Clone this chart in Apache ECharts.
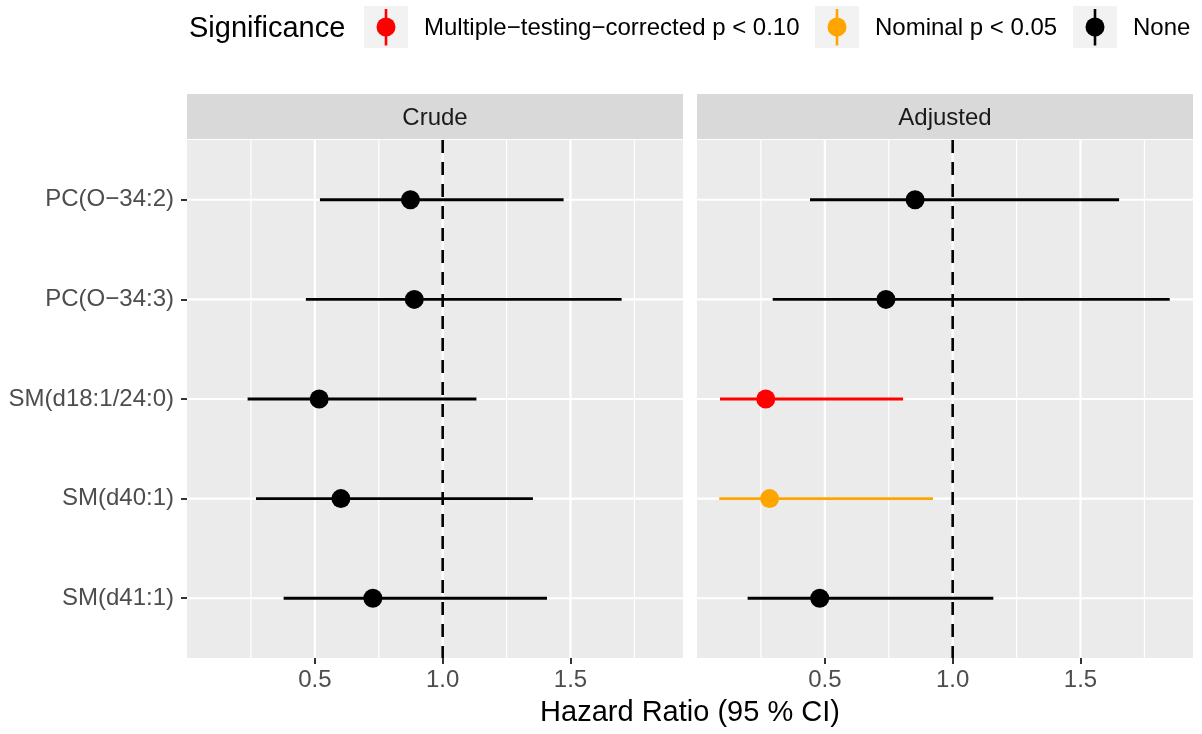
<!DOCTYPE html>
<html><head><meta charset="utf-8">
<script src="https://cdn.jsdelivr.net/npm/echarts@6/dist/echarts.min.js"></script>
<style>html,body{margin:0;padding:0;background:#fff}#c{width:1202px;height:734px}</style>
</head><body><div id="c"></div>
<script>
// ---- data ----
const categories = ['PC(O−34:2)', 'PC(O−34:3)', 'SM(d18:1/24:0)', 'SM(d40:1)', 'SM(d41:1)'];
const panels = ['Crude', 'Adjusted'];
const crudeHR   = [0.874, 0.889, 0.517, 0.602, 0.727];
const crudeLow  = [0.520, 0.465, 0.237, 0.270, 0.378];
const crudeHigh = [1.473, 1.700, 1.132, 1.353, 1.408];
const crudeSig  = [2, 2, 2, 2, 2];
const adjHR   = [0.853, 0.739, 0.269, 0.284, 0.480];
const adjLow  = [0.442, 0.296, 0.090, 0.087, 0.198];
const adjHigh = [1.651, 1.849, 0.806, 0.923, 1.159];
const adjSig  = [2, 2, 0, 1, 2];
const sigLevels = ['Multiple−testing−corrected p < 0.10', 'Nominal p < 0.05', 'None'];
const sigColors = ['#FF0000', '#FFA500', '#000000'];
const xTicks = [0.5, 1.0, 1.5];
const xMinor = [0.25, 0.75, 1.25, 1.75];
const refLine = 1;
const xTitle = 'Hazard Ratio (95 % CI)';
const legendTitle = 'Significance';

// ---- layout ----
const FONT = '"Liberation Sans", Arial, Helvetica, sans-serif';
const panelBoxes = [{left: 187, top: 140, width: 496, height: 518}, {left: 697, top: 140, width: 496, height: 518}];
const stripTop = 94, stripH = 45;
const catPos = categories.map((c, k) => k + 1);
const panelData = [
  {hr: crudeHR, lo: crudeLow, hi: crudeHigh, sig: crudeSig},
  {hr: adjHR, lo: adjLow, hi: adjHigh, sig: adjSig}
];

const chart = echarts.init(document.getElementById('c'), null, {renderer: 'canvas'});

function vLine(width, dash) {
  return function (params, api) {
    const cs = params.coordSys;
    const x = api.coord([api.value(0), 3])[0];
    return {type: 'line', shape: {x1: x, y1: cs.y, x2: x, y2: cs.y + cs.height},
      style: {stroke: dash ? '#000000' : '#FFFFFF', lineWidth: width, lineDash: dash || null}, silent: true};
  };
}
function hLine(params, api) {
  const cs = params.coordSys;
  const y = api.coord([1, api.value(1)])[1];
  return {type: 'line', shape: {x1: cs.x, y1: y, x2: cs.x + cs.width, y2: y},
    style: {stroke: '#FFFFFF', lineWidth: 2.1}, silent: true};
}

const grids = [], xAxes = [], yAxes = [], series = [], graphics = [];
panelBoxes.forEach((b, i) => {
  grids.push({left: b.left, top: b.top, width: b.width, height: b.height, show: true,
    backgroundColor: '#EBEBEB', borderWidth: 0, containLabel: false, outerBoundsMode: 'none'});
  xAxes.push({gridIndex: i, type: 'value', min: 0, max: 1.94,
    splitLine: {show: false}, axisLine: {show: false},
    axisTick: {show: true, customValues: xTicks, length: 6, lineStyle: {color: '#333333', width: 2}},
    axisLabel: {customValues: xTicks, formatter: v => Number(v).toFixed(1), color: '#4D4D4D',
      fontSize: 24, fontFamily: FONT, margin: 10}});
  yAxes.push({gridIndex: i, type: 'value', min: 0.4, max: 5.6, inverse: true,
    splitLine: {show: false}, axisLine: {show: false},
    axisTick: {show: i === 0, customValues: catPos, length: 6, lineStyle: {color: '#333333', width: 2}},
    axisLabel: {show: i === 0, customValues: catPos, formatter: v => categories[Math.round(v) - 1],
      color: '#4D4D4D', fontSize: 24, fontFamily: FONT, margin: 13}});
  const d = panelData[i];
  series.push({type: 'custom', xAxisIndex: i, yAxisIndex: i, z: 1, silent: true,
    data: xMinor.map(v => [v, 3]), encode: {x: 0, y: 1}, renderItem: vLine(1.2)});
  series.push({type: 'custom', xAxisIndex: i, yAxisIndex: i, z: 1, silent: true,
    data: xTicks.map(v => [v, 3]), encode: {x: 0, y: 1}, renderItem: vLine(2.2)});
  series.push({type: 'custom', xAxisIndex: i, yAxisIndex: i, z: 1, silent: true,
    data: catPos.map(v => [1, v]), encode: {x: 0, y: 1}, renderItem: hLine});
  series.push({type: 'custom', xAxisIndex: i, yAxisIndex: i, z: 2, silent: true,
    data: [[refLine, 3]], encode: {x: 0, y: 1}, renderItem: vLine(2.6, [13, 9])});
  series.push({type: 'custom', name: panels[i] + ' CI', xAxisIndex: i, yAxisIndex: i, z: 3,
    data: categories.map((c, k) => [d.lo[k], d.hi[k], k + 1, d.sig[k]]),
    encode: {x: [0, 1], y: 2},
    renderItem: function (params, api) {
      const p1 = api.coord([api.value(0), api.value(2)]);
      const p2 = api.coord([api.value(1), api.value(2)]);
      return {type: 'line', shape: {x1: p1[0], y1: p1[1], x2: p2[0], y2: p2[1]},
        style: {stroke: sigColors[api.value(3)], lineWidth: 2.8}};
    }});
  series.push({type: 'scatter', name: panels[i], xAxisIndex: i, yAxisIndex: i, z: 4,
    symbol: 'circle', symbolSize: 19,
    data: categories.map((c, k) => [d.hr[k], k + 1, d.sig[k]]),
    itemStyle: {color: p => sigColors[p.data[2]], opacity: 1}});
  // strip
  graphics.push({type: 'rect', silent: true, shape: {x: b.left, y: stripTop, width: b.width, height: stripH},
    style: {fill: '#D9D9D9'}});
  graphics.push({type: 'text', silent: true, x: b.left + b.width / 2, y: stripTop + stripH / 2 + 2,
    style: {text: panels[i], fill: '#1A1A1A', fontSize: 24, fontFamily: FONT, align: 'center', verticalAlign: 'middle'}});
});

// axis title
graphics.push({type: 'text', silent: true, x: (panelBoxes[0].left + panelBoxes[1].left + panelBoxes[1].width) / 2, y: 713,
  style: {text: xTitle, fill: '#000000', fontSize: 29, fontFamily: FONT, align: 'center', verticalAlign: 'middle'}});

// legend
const legY = 27;
graphics.push({type: 'text', silent: true, x: 189, y: legY + 2,
  style: {text: legendTitle, fill: '#000000', fontSize: 29, fontFamily: FONT, align: 'left', verticalAlign: 'middle'}});
const keyX = [364, 815, 1073];
sigLevels.forEach((lab, j) => {
  const kx = keyX[j], cx = kx + 22;
  graphics.push({type: 'rect', silent: true, shape: {x: kx, y: 6, width: 44, height: 42}, style: {fill: '#F2F2F2'}});
  graphics.push({type: 'line', silent: true, shape: {x1: cx, y1: 9, x2: cx, y2: 45.5},
    style: {stroke: sigColors[j], lineWidth: 2.6}});
  graphics.push({type: 'circle', silent: true, shape: {cx: cx, cy: legY, r: 9.5}, style: {fill: sigColors[j]}});
  graphics.push({type: 'text', silent: true, x: kx + 60, y: legY + 1.5,
    style: {text: lab, fill: '#000000', fontSize: 24, fontFamily: FONT, align: 'left', verticalAlign: 'middle'}});
});

chart.setOption({
  animation: false,
  backgroundColor: '#FFFFFF',
  textStyle: {fontFamily: FONT},
  grid: grids, xAxis: xAxes, yAxis: yAxes, series: series,
  graphic: {elements: graphics}
});
</script></body></html>
